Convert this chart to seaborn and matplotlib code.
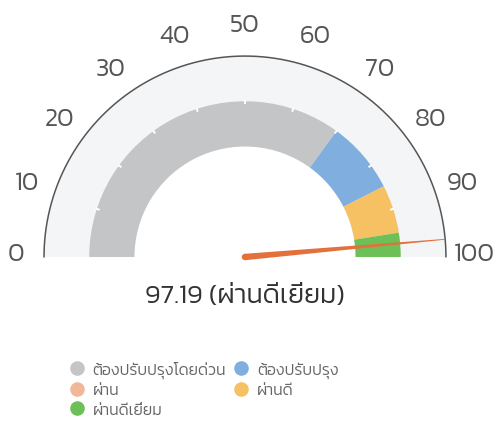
import numpy as np
import matplotlib
matplotlib.use("Agg")
import matplotlib.pyplot as plt
from matplotlib.patches import Wedge, Polygon, Circle
from matplotlib.lines import Line2D
import seaborn as sns

# gauge data
band_labels = ["ต้องปรับปรุงโดยด่วน", "ต้องปรับปรุง", "ผ่าน", "ผ่านดี", "ผ่านดีเยี่ยม"]
band_start = [0, 70, 85, 85, 95]
band_end = [70, 85, 85, 95, 100]
band_colors = ["#c4c5c7", "#80aedf", "#f0b899", "#f5c163", "#6dbf58"]
tick_values = [0, 10, 20, 30, 40, 50, 60, 70, 80, 90, 100]
score = 97.19
score_label = "ผ่านดีเยี่ยม"

sns.set_theme(style="white")
plt.rcParams["font.family"] = ["Kanit", "DejaVu Sans"]


def to_deg(v):
    return 180 - 1.8 * v


R_IN, R_OUT = 0.55, 0.775

fig = plt.figure(figsize=(4.98, 4.27), dpi=100)
ax = fig.add_axes([0, 0, 1, 1])
ax.set_xlim(-1.219, 1.259)
ax.set_ylim(-0.841, 1.284)
ax.axis("off")

# light background ring
ax.add_patch(Wedge((0, 0), 1.0, 0, 180, width=1.0 - R_IN,
                   facecolor="#f4f5f6", edgecolor="none", zorder=1))
# outer arc
th = np.linspace(0, np.pi, 300)
ax.plot(np.cos(th), np.sin(th), color="#555555", lw=1.1, zorder=2)

# colored bands
for s, e, c in zip(band_start, band_end, band_colors):
    if e > s:
        ax.add_patch(Wedge((0, 0), R_OUT, to_deg(e), to_deg(s), width=R_OUT - R_IN,
                           facecolor=c, edgecolor="none", zorder=3))

# small notches on the band edge
for v in tick_values[1:-1]:
    a = np.radians(to_deg(v))
    ax.plot([0.76 * np.cos(a), 0.78 * np.cos(a)], [0.76 * np.sin(a), 0.78 * np.sin(a)],
            color="white", lw=1.4, zorder=4, solid_capstyle="butt")

# tick labels
for v in tick_values:
    a = np.radians(to_deg(v))
    ax.text(1.14 * np.cos(a), 1.14 * np.sin(a) + 0.015, str(v), ha="center", va="center",
            fontsize=18.5, fontweight=300, color="#555555", zorder=5)

# needle
a = np.radians(to_deg(score))
tip = np.array([np.cos(a), np.sin(a)])
perp = np.array([-np.sin(a), np.cos(a)])
hw = 0.016
needle = Polygon([perp * hw, tip + perp * 0.002, tip - perp * 0.002, -perp * hw],
                 closed=True, facecolor="#e4703c", edgecolor="none", zorder=6)
ax.add_patch(needle)
ax.add_patch(Circle((0, 0), hw, facecolor="#e4703c", edgecolor="none", zorder=6))

# score text
ax.text(0, -0.195, f"{score} ({score_label})", ha="center", va="center",
        fontsize=19.5, fontweight=300, color="#333333")

# legend, filled by rows like the reference
order = [0, 2, 4, 1, 3]
handles = [Line2D([], [], marker="o", linestyle="none", markersize=10.5,
                  markerfacecolor=band_colors[i], markeredgecolor="none",
                  label=band_labels[i]) for i in order]
fig.legend(handles=handles, loc="upper left", bbox_to_anchor=(0.122, 0.168),
           ncol=2, frameon=False, labelcolor="#666666",
           handletextpad=0.4, labelspacing=0.34, columnspacing=0.35,
           borderaxespad=0, handlelength=1.2,
           prop={"family": ["Kanit", "DejaVu Sans"], "weight": 300, "size": 11.4})

fig.savefig("out.png", dpi=100)
